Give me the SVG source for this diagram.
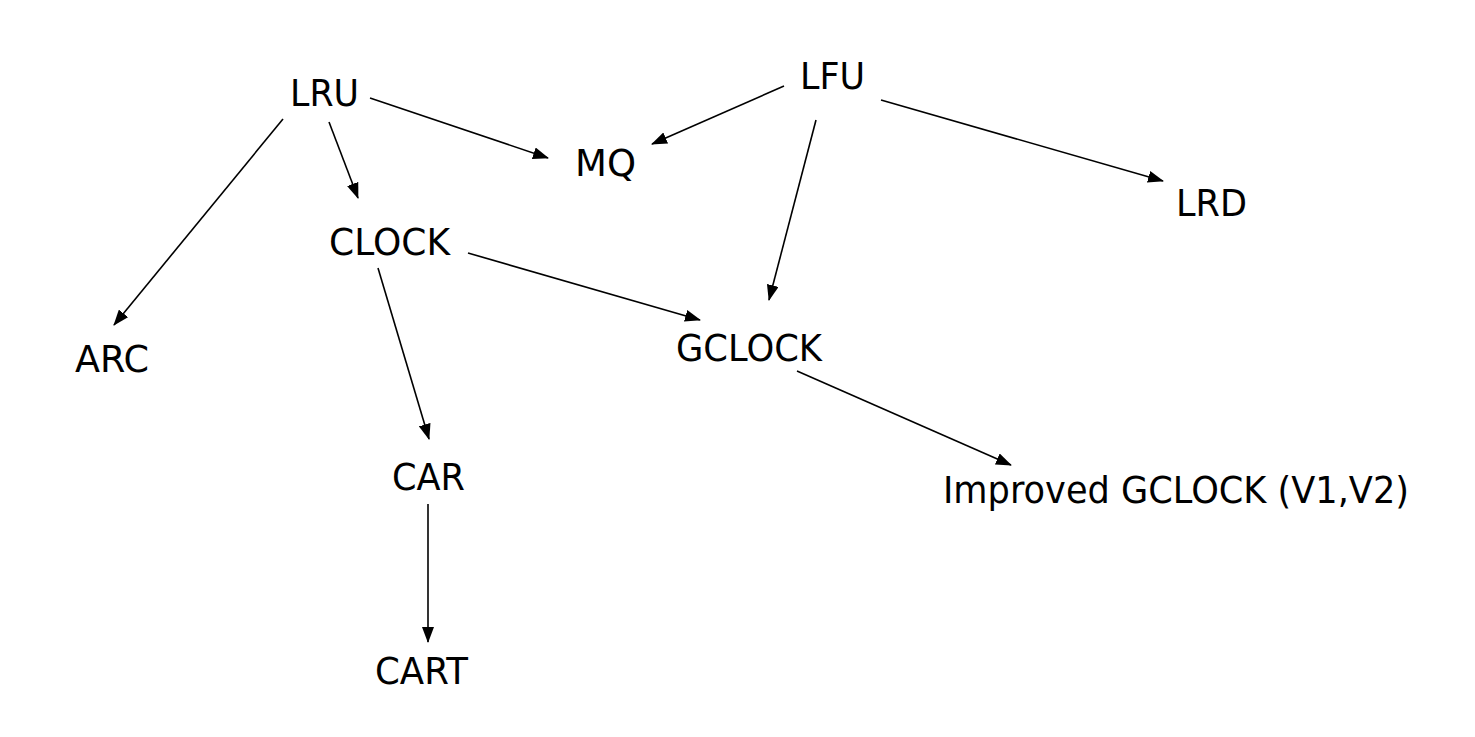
<svg xmlns="http://www.w3.org/2000/svg" width="1475" height="737" viewBox="0 0 1475 737">
<style>
text{font-family:"DejaVu Sans","Noto Sans",sans-serif;font-size:38px;fill:#000}
.e{stroke:#000;stroke-width:1.6;fill:none;marker-end:url(#ah)}
</style>
<defs>
<marker id="ah" markerUnits="userSpaceOnUse" markerWidth="16" markerHeight="12" viewBox="0 0 16 12" refX="15" refY="6" orient="auto">
<path d="M0,0 L16,6 L0,12 Z" fill="#000"/>
</marker>
</defs>
<rect width="1475" height="737" fill="#fff"/>
<g id="connectors">
<line class="e" x1="283" y1="119" x2="114" y2="325"/>
<line class="e" x1="329" y1="122" x2="358" y2="198"/>
<line class="e" x1="370" y1="98" x2="548" y2="158"/>
<line class="e" x1="784" y1="86" x2="652" y2="144"/>
<line class="e" x1="816" y1="120" x2="769" y2="300"/>
<line class="e" x1="881" y1="100" x2="1163" y2="181"/>
<line class="e" x1="468" y1="253" x2="700" y2="320"/>
<line class="e" x1="378" y1="268" x2="429" y2="439"/>
<line class="e" x1="797" y1="371" x2="1011" y2="465"/>
<line class="e" x1="428" y1="504" x2="428" y2="642"/>
</g>
<g id="LRU"><text x="290" y="106" textLength="69" lengthAdjust="spacingAndGlyphs">LRU</text></g>
<g id="LFU"><text x="800" y="89" textLength="65" lengthAdjust="spacingAndGlyphs">LFU</text></g>
<g id="MQ"><text x="575" y="176" textLength="61" lengthAdjust="spacingAndGlyphs">MQ</text></g>
<g id="LRD"><text x="1176" y="216" textLength="71" lengthAdjust="spacingAndGlyphs">LRD</text></g>
<g id="CLOCK"><text x="329" y="255" textLength="121" lengthAdjust="spacingAndGlyphs">CLOCK</text></g>
<g id="ARC"><text x="75" y="372" textLength="74" lengthAdjust="spacingAndGlyphs">ARC</text></g>
<g id="GCLOCK"><text x="676" y="361" textLength="146" lengthAdjust="spacingAndGlyphs">GCLOCK</text></g>
<g id="CAR"><text x="392" y="490" textLength="73" lengthAdjust="spacingAndGlyphs">CAR</text></g>
<g id="CART"><text x="375" y="684" textLength="93" lengthAdjust="spacingAndGlyphs">CART</text></g>
<g id="ImprovedGCLOCK"><text x="943" y="503" textLength="466" lengthAdjust="spacingAndGlyphs">Improved GCLOCK (V1,V2)</text></g>
</svg>
